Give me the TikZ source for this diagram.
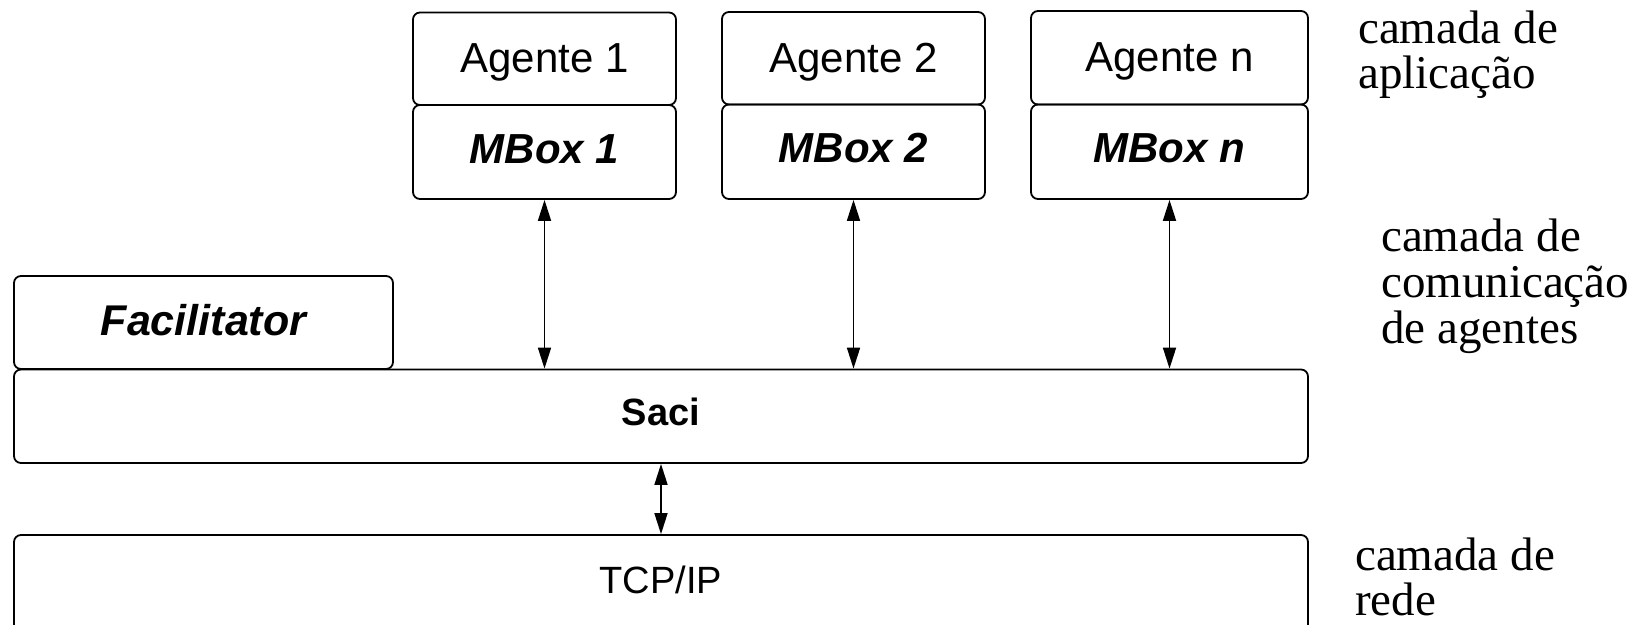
\documentclass[tikz,border=0pt]{standalone}
\usepackage{fontspec}
\setmainfont{Liberation Serif}
\setsansfont{Liberation Sans}
\usetikzlibrary{arrows.meta}

\tikzset{
  layerbox/.style={draw=black, line width=1.8pt, rounded corners=7pt,
    inner sep=0pt, text height=30pt, text depth=0pt,
    font=\sffamily\fontsize{42}{48}\selectfont},
  boldital/.style={font=\sffamily\bfseries\itshape\fontsize{42}{48}\selectfont},
  smalltext/.style={text height=27pt},
  link/.style={line width=1.7pt, {Triangle[length=21pt,width=13pt]}-{Triangle[length=21pt,width=13pt]}},
  layertext/.style={anchor=base west, inner sep=0pt,
    font=\rmfamily\fontsize{47}{46}\selectfont}
}

\begin{document}
\begin{tikzpicture}[x=1pt, y=-1pt]
  \useasboundingbox (0,0) rectangle (1644,624);
  \clip (0,0) rectangle (1644,624);

  % application layer: agents and their mailboxes
  \node[layerbox, minimum width=263pt, minimum height=92.5pt] (ag1) at (544.5,58.75) {\raisebox{1pt}{Agente 1}};
  \node[layerbox, boldital, minimum width=263pt, minimum height=94pt] (mb1) at (544.5,152) {\raisebox{4pt}{MBox 1}};
  \node[layerbox, minimum width=263pt, minimum height=92.5pt] (ag2) at (853.5,58.25) {\raisebox{1pt}{Agente 2}};
  \node[layerbox, boldital, minimum width=263pt, minimum height=94.5pt] (mb2) at (853.5,151.75) {\raisebox{4pt}{MBox 2}};
  \node[layerbox, minimum width=277pt, minimum height=93.5pt] (agn) at (1169.5,57.75) {\raisebox{1pt}{Agente n}};
  \node[layerbox, boldital, minimum width=277pt, minimum height=94.5pt] (mbn) at (1169.5,151.75) {\raisebox{4pt}{MBox n}};

  % communication layer
  \node[layerbox, boldital, font=\sffamily\bfseries\itshape\fontsize{43}{48}\selectfont,
        minimum width=379pt, minimum height=93pt] (fac) at (203.5,322.5) {\raisebox{2pt}{Facilitator}};
  \node[layerbox, smalltext, font=\sffamily\bfseries\fontsize{38}{44}\selectfont,
        minimum width=1294pt, minimum height=93.5pt] (saci) at (661,416.25) {\raisebox{4pt}{Saci}};

  % network layer (continues below the lower edge)
  \node[layerbox, smalltext, font=\sffamily\fontsize{38}{44}\selectfont,
        minimum width=1294pt, minimum height=117pt] (tcp) at (661,593.5) {\raisebox{14pt}{TCP/IP}};

  % connectors
  \draw[link] (mb1.south) -- (mb1.south |- saci.north);
  \draw[link] (mb2.south) -- (mb2.south |- saci.north);
  \draw[link] (mbn.south) -- (mbn.south |- saci.north);
  \draw[link] (saci.south) -- (saci.south |- tcp.north);

  % layer names
  \node[layertext] (la1) at (1358,43) {camada de};
  \node[layertext] (la2) at (1358,88) {aplicação};
  \node[layertext] (lc1) at (1381,251) {camada de};
  \node[layertext] (lc2) at (1381,297) {comunicação};
  \node[layertext] (lc3) at (1381,343) {de agentes};
  \node[layertext] (lr1) at (1355,570) {camada de};
  \node[layertext] (lr2) at (1355,615) {rede};
\end{tikzpicture}
\end{document}
